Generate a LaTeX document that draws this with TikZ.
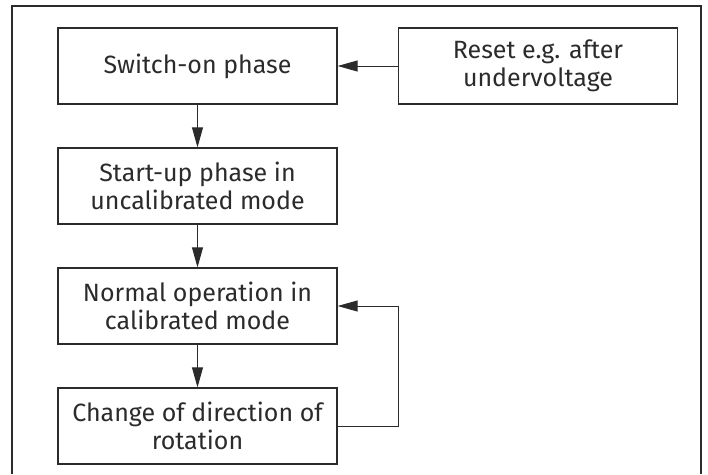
\documentclass[tikz,border=0pt]{standalone}
\usepackage{fontspec}
\setmainfont{Fira Sans}
\usepackage{tikz}
\usetikzlibrary{arrows.meta,positioning}
\definecolor{ink}{HTML}{2B2B2B}

\begin{document}
\begin{tikzpicture}[x=1pt,y=-1pt,
		phase/.style={draw=ink,line width=1.3pt,text=ink,minimum width=279pt,minimum height=76pt,inner sep=0pt,align=center,font=\fontsize{25}{28}\selectfont},
		flow/.style={ink,line width=0.9pt,-{Triangle[length=20pt,width=11pt]}}]
			\useasboundingbox (0,0) rectangle (708,474);
			\draw[ink,line width=1.3pt] (12,474) -- (12,6) -- (701,6) -- (701,474);
			\node[phase] (switchon) at (197.5,66) {Switch-on phase};
			\node[phase] (reset) at (538,66) {Reset e.g. after\\undervoltage};
			\node[phase] (startup) at (197.5,186) {Start-up phase in\\uncalibrated mode};
			\node[phase] (normal) at (197.5,306) {Normal operation in\\calibrated mode};
			\node[phase] (change) at (197.5,426) {Change of direction of\\rotation};
			\coordinate (turn) at (398,426);
			\draw[flow] (reset) -- (switchon);
			\draw[flow] (switchon) -- (startup);
			\draw[flow] (startup) -- (normal);
			\draw[flow] (normal) -- (change);
			\draw[flow] (change) -- (turn) |- (normal);
		\end{tikzpicture}
\end{document}
